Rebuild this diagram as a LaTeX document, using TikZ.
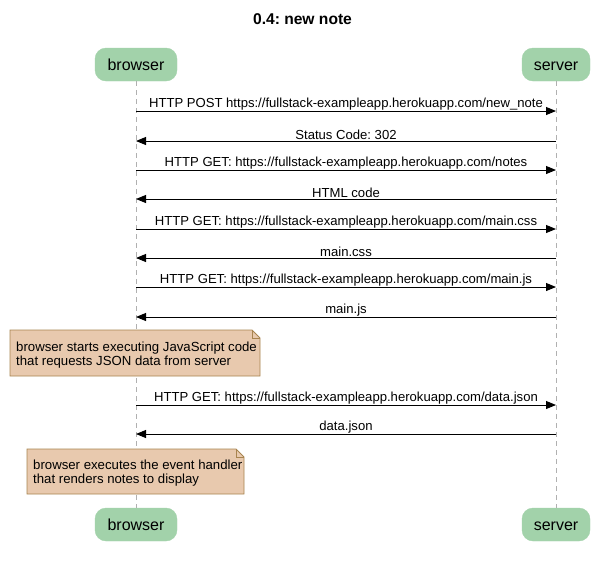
\documentclass[tikz,border=0pt]{standalone}
\usepackage{fontspec}
\setmainfont{Liberation Sans}
\usetikzlibrary{arrows.meta}
\definecolor{actorfill}{HTML}{A2D2AA}
\definecolor{notefill}{HTML}{E8C9AE}
\definecolor{noteline}{HTML}{A8844F}
\definecolor{lifeline}{HTML}{B0B0B0}
\frenchspacing
\begin{document}
\begin{tikzpicture}[x=1pt,y=-1pt,
  actor/.style={draw=actorfill,fill=actorfill,rounded corners=11pt,minimum height=33pt,inner sep=0pt,text height=13.5pt,text depth=2.5pt,font=\fontsize{16}{18}\selectfont},
  msg/.style={-{Triangle[length=10pt,width=8pt]},line width=0.9pt},
  lbl/.style={font=\fontsize{13.1}{15}\selectfont,inner sep=0pt,anchor=base},
  notetext/.style={font=\fontsize{13.2}{14}\selectfont,align=left,anchor=north west,inner sep=0pt},
  life/.style={draw=lifeline,dash pattern=on 5pt off 4pt,line width=0.8pt}]
\useasboundingbox (0,0) rectangle (605,566);
% title
\node[font=\bfseries\fontsize{15.6}{17}\selectfont] (title) at (302.5,19) {0.4: new note};
% participants
\node[actor,minimum width=82pt] (bt) at (136,64.5) {browser};
\node[actor,minimum width=68pt] (st) at (556,64.5) {server};
\node[actor,minimum width=82pt] (bb) at (136,524.5) {browser};
\node[actor,minimum width=68pt] (sb) at (556,524.5) {server};
% lifelines
\draw[life] (bt.south) -- (bb.north);
\draw[life] (st.south) -- (sb.north);
% message anchors on the lifelines
\foreach \i/\y in {1/111,2/141,3/170,4/199,5/229,6/258,7/287,8/317,9/405,10/434}{
  \coordinate (b\i) at (136,\y);
  \coordinate (s\i) at (556,\y);
}
\draw[msg] (b1) -- node[lbl,above=0.5pt] {HTTP POST https://fullstack-exampleapp.herokuapp.com/new\_note} (s1);
\draw[msg] (s2) -- node[lbl,above=0.5pt] {Status Code: 302} (b2);
\draw[msg] (b3) -- node[lbl,above=0.5pt] {HTTP GET: https://fullstack-exampleapp.herokuapp.com/notes} (s3);
\draw[msg] (s4) -- node[lbl,above=0.5pt] {HTML code} (b4);
\draw[msg] (b5) -- node[lbl,above=0.5pt] {HTTP GET: https://fullstack-exampleapp.herokuapp.com/main.css} (s5);
\draw[msg] (s6) -- node[lbl,above=0.5pt] {main.css} (b6);
\draw[msg] (b7) -- node[lbl,above=0.5pt] {HTTP GET: https://fullstack-exampleapp.herokuapp.com/main.js} (s7);
\draw[msg] (s8) -- node[lbl,above=0.5pt] {main.js} (b8);
\draw[msg] (b9) -- node[lbl,above=0.5pt] {HTTP GET: https://fullstack-exampleapp.herokuapp.com/data.json} (s9);
\draw[msg] (s10) -- node[lbl,above=0.5pt] {data.json} (b10);
% notes
\draw[draw=noteline,fill=notefill,line width=0.8pt]
  (10,330) -- (252,330) -- (260,338) -- (260,376) -- (10,376) -- cycle;
\draw[draw=noteline,line width=0.8pt] (252,330) -- (252,338) -- (260,338);
\node[notetext] (n1) at (16,342) {browser starts executing JavaScript code\\that requests JSON data from server};
\draw[draw=noteline,fill=notefill,line width=0.8pt]
  (27,449) -- (236,449) -- (244,457) -- (244,494) -- (27,494) -- cycle;
\draw[draw=noteline,line width=0.8pt] (236,449) -- (236,457) -- (244,457);
\node[notetext] (n2) at (33,460) {browser executes the event handler\\that renders notes to display};
\end{tikzpicture}
\end{document}
